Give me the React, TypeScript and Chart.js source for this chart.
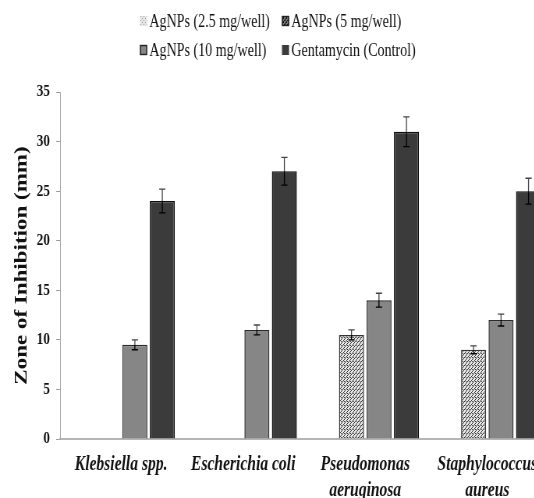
import React, { useEffect, useRef } from "react";
import { Chart, registerables } from "chart.js";

Chart.register(...registerables);

// ---- data ----
const categories: string[][] = [
  ["Klebsiella spp."],
  ["Escherichia coli"],
  ["Pseudomonas", "aeruginosa"],
  ["Staphylococcus", "aureus"],
];
const seriesLabels = [
  "AgNPs (2.5 mg/well)",
  "AgNPs (5 mg/well)",
  "AgNPs (10 mg/well)",
  "Gentamycin (Control)",
];
const agnp25: (number | null)[] = [null, null, null, null];
const agnp5: (number | null)[] = [null, null, 10.5, 9];
const agnp10: (number | null)[] = [9.5, 11, 14, 12];
const gentamycin: (number | null)[] = [24, 27, 31, 25];
const err25 = [0, 0, 0, 0];
const err5 = [0, 0, 0.5, 0.4];
const err10 = [0.5, 0.5, 0.7, 0.6];
const errGent = [1.2, 1.4, 1.5, 1.3];
const yMin = 0;
const yMax = 35;
const yStep = 5;

const SQUEEZE = 0.78;
const CANVAS_W = 703;
const CANVAS_H = 504;

function makePattern(bg: string, fg: string, dots: [number, number][], size = 4) {
  const c = document.createElement("canvas");
  c.width = size;
  c.height = size;
  const g = c.getContext("2d")!;
  g.fillStyle = bg;
  g.fillRect(0, 0, size, size);
  g.fillStyle = fg;
  dots.forEach(([x, y]) => g.fillRect(x, y, 1, 1));
  const ctx = document.createElement("canvas").getContext("2d")!;
  return ctx.createPattern(c, "repeat")!;
}

const errorBarPlugin = {
  id: "errorBars",
  afterDatasetsDraw(chart: any) {
    const ctx = chart.ctx;
    const yScale = chart.scales.y;
    ctx.save();
    chart.data.datasets.forEach((ds: any, di: number) => {
      const meta = chart.getDatasetMeta(di);
      const errs: number[] = ds.errors || [];
      meta.data.forEach((el: any, i: number) => {
        const v = ds.data[i];
        const e = errs[i];
        if (v == null || !e) return;
        const x = el.x;
        const yTop = yScale.getPixelForValue(v + e);
        const yBot = yScale.getPixelForValue(v - e);
        const yVal = yScale.getPixelForValue(v);
        ctx.lineWidth = 1.3;
        ctx.strokeStyle = "#444";
        ctx.beginPath();
        ctx.moveTo(x, yTop);
        ctx.lineTo(x, yVal);
        ctx.moveTo(x - 4, yTop);
        ctx.lineTo(x + 4, yTop);
        ctx.stroke();
        ctx.strokeStyle = "#000";
        ctx.beginPath();
        ctx.moveTo(x, yVal);
        ctx.lineTo(x, yBot);
        ctx.moveTo(x - 4, yBot);
        ctx.lineTo(x + 4, yBot);
        ctx.stroke();
      });
    });
    ctx.restore();
  },
};

const legendPlugin = {
  id: "gridLegend",
  afterDraw(chart: any) {
    const ctx = chart.ctx;
    const cols = [179.5, 361.5];
    const rows = [21, 50];
    ctx.save();
    ctx.font = '18px "Liberation Serif", "Times New Roman", serif';
    ctx.textBaseline = "middle";
    ctx.textAlign = "left";
    chart.data.datasets.forEach((ds: any, i: number) => {
      const x = cols[i % 2];
      const y = rows[Math.floor(i / 2)];
      ctx.fillStyle = ds.legendFill || ds.backgroundColor;
      ctx.fillRect(x, y - 5, 9, 10);
      if (ds.legendBorder) {
        ctx.strokeStyle = ds.legendBorder;
        ctx.lineWidth = 1.4;
        ctx.strokeRect(x + 0.5, y - 4.5, 8, 9);
      }
      ctx.fillStyle = "#111";
      ctx.fillText(ds.label, x + 12, y + 1);
    });
    ctx.restore();
  },
};

export default function App() {
  const canvasRef = useRef<HTMLCanvasElement | null>(null);

  useEffect(() => {
    const canvas = canvasRef.current;
    if (!canvas) return;
    const pat25 = makePattern("#e4e4e4", "#9a9a9a", [[0, 0], [2, 2]]);
    const pat5 = makePattern("#e6e6e6", "#333", [[0, 0], [1, 1], [2, 2], [3, 1], [1, 3]]);
    const pat5Legend = makePattern("#777", "#111", [[0, 0], [1, 0], [3, 1], [2, 2], [3, 2], [1, 3]]);

    const chart = new Chart(canvas, {
      type: "bar",
      data: {
        labels: categories,
        datasets: [
          {
            label: seriesLabels[0],
            data: agnp25,
            errors: err25,
            backgroundColor: pat25,
            borderColor: "#555",
            borderWidth: 1.2,
          } as any,
          {
            label: seriesLabels[1],
            data: agnp5,
            errors: err5,
            backgroundColor: pat5,
            legendFill: pat5Legend,
            legendBorder: "#222",
            borderColor: "#333",
            borderWidth: 1.5,
          } as any,
          {
            label: seriesLabels[2],
            data: agnp10,
            errors: err10,
            backgroundColor: "#868686",
            legendBorder: "#222",
            borderColor: "#2a2a2a",
            borderWidth: 1.5,
          } as any,
          {
            label: seriesLabels[3],
            data: gentamycin,
            errors: errGent,
            backgroundColor: "#3b3b3b",
            borderColor: "#0e0e0e",
            borderWidth: 1.5,
          } as any,
        ],
      },
      options: {
        responsive: false,
        animation: false,
        devicePixelRatio: 1,
        layout: { padding: { top: 92, left: 0, right: 0, bottom: 0 } },
        datasets: {
          bar: {
            categoryPercentage: 0.9,
            barPercentage: 0.91,
          },
        },
        plugins: {
          legend: { display: false },
          tooltip: { enabled: false },
          title: { display: false },
        },
        scales: {
          x: {
            grid: { display: false, drawTicks: false },
            border: { display: true, color: "#b5b5b5", width: 2 },
            ticks: {
              autoSkip: false,
              maxRotation: 0,
              minRotation: 0,
              padding: 13,
              color: "#111",
              font: {
                family: '"Liberation Serif", "Times New Roman", serif',
                size: 20,
                weight: "bold",
                style: "italic",
                lineHeight: 1.3,
              },
            },
            afterFit: (s: any) => {
              s.height = 65;
            },
          },
          y: {
            min: yMin,
            max: yMax,
            grid: {
              display: true,
              drawOnChartArea: false,
              drawTicks: true,
              tickLength: 5,
              color: "#9a9a9a",
            },
            border: { display: true, color: "#a8a8a8", width: 1 },
            ticks: {
              stepSize: yStep,
              padding: 8,
              color: "#111",
              font: {
                family: '"Liberation Serif", "Times New Roman", serif',
                size: 17,
                weight: "bold",
              },
            },
            title: {
              display: true,
              text: "Zone of Inhibition (mm)",
              color: "#111",
              padding: { top: 14, bottom: 0 },
              font: {
                family: '"Liberation Serif", "Times New Roman", serif',
                size: 23,
                weight: "bold",
                lineHeight: 1.2,
              },
            },
            afterFit: (s: any) => {
              s.width = 77;
            },
          },
        },
      } as any,
      plugins: [errorBarPlugin, legendPlugin],
    });

    return () => {
      chart.destroy();
    };
  }, []);

  return (
    <div
      style={{
        position: "fixed",
        left: 0,
        top: 0,
        width: 534,
        height: 498,
        overflow: "hidden",
        background: "#fff",
      }}
    >
      <canvas
        ref={canvasRef}
        width={CANVAS_W}
        height={CANVAS_H}
        style={{
          display: "block",
          width: CANVAS_W,
          height: CANVAS_H,
          transform: `scaleX(${SQUEEZE})`,
          transformOrigin: "0 0",
        }}
      />
    </div>
  );
}
